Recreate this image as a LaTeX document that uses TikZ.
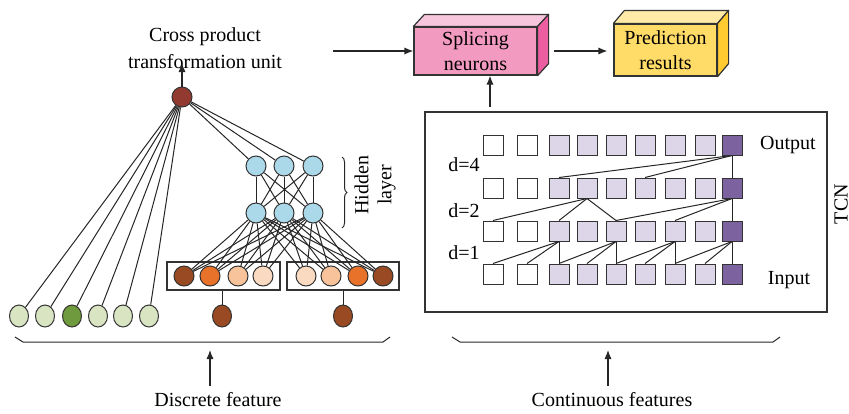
\documentclass[tikz,border=0pt]{standalone}
\usepackage{fontspec}
\setmainfont{Liberation Serif}
\usepackage{tikz}
\usetikzlibrary{arrows.meta, shapes.geometric, decorations.pathreplacing}

\definecolor{crossred}{HTML}{923A30}
\definecolor{hidblue}{HTML}{ABD9E9}
\definecolor{embbrown}{HTML}{9A4A22}
\definecolor{emborange}{HTML}{E8722A}
\definecolor{emblight}{HTML}{F8C39A}
\definecolor{embpale}{HTML}{FADAC0}
\definecolor{greenlight}{HTML}{D9E5C2}
\definecolor{greendark}{HTML}{6F9A3D}
\definecolor{tcnlight}{HTML}{DCD6E8}
\definecolor{tcndark}{HTML}{7D62A0}
\definecolor{splfront}{HTML}{F39AC1}
\definecolor{spltop}{HTML}{F7C6DC}
\definecolor{splside}{HTML}{EC5E9F}
\definecolor{prefront}{HTML}{FFDB68}
\definecolor{pretop}{HTML}{FFEBA6}
\definecolor{preside}{HTML}{FFCB30}

\tikzset{
  unit/.style = {circle, draw=black!80, line width=0.5pt, minimum size=10pt, inner sep=0pt},
  feat/.style = {ellipse, draw=black!80, line width=0.5pt, minimum width=9.5pt, minimum height=11pt, inner sep=0pt},
  cell/.style = {draw=black!80, line width=0.5pt, minimum size=10pt, inner sep=0pt},
  frame/.style = {draw=black!80, line width=0.6pt, inner sep=0pt},
  block/.style = {frame, align=center, font=\fontsize{10}{12.5}\selectfont},
  face/.style = {draw=black!80, line width=0.6pt, line join=round},
  link/.style = {line width=0.5pt, black!85},
  arr/.style = {-{Latex[length=4.5pt, width=3.6pt]}, line width=0.6pt, black!85}
}

\begin{document}
\begin{tikzpicture}[x=0.5pt, y=-0.5pt, font=\fontsize{10}{13.5}\selectfont]
\useasboundingbox (0,0) rectangle (849,413);

% splicing and prediction blocks
\node [block, fill=splfront, minimum width=61.5pt, minimum height=24pt] (splice) at (475.5,51) {Splicing\\neurons};
\draw [face, fill=spltop] (splice.north west) -- ++(11,-12) -- ([shift={(11,-12)}]splice.north east) -- (splice.north east) -- cycle;
\draw [face, fill=splside] (splice.north east) -- ++(11,-12) -- ([shift={(11,-12)}]splice.south east) -- (splice.south east) -- cycle;
\node [block, fill=prefront, minimum width=51.5pt, minimum height=26pt] (predict) at (665.5,50) {Prediction\\results};
\draw [face, fill=pretop] (predict.north west) -- ++(11,-13) -- ([shift={(11,-13)}]predict.north east) -- (predict.north east) -- cycle;
\draw [face, fill=preside] (predict.north east) -- ++(11,-13) -- ([shift={(11,-13)}]predict.south east) -- (predict.south east) -- cycle;
\draw [arr] ([xshift=8pt]splice.east) -- ([xshift=-3pt]predict.west |- splice.east);
\coordinate (crossout) at (333,51);
\draw [arr] (crossout) -- (splice.west);

% cross product part
\node [align=center] (crosslbl) at (205,48) {Cross product\\transformation unit};
\node [unit, fill=crossred] (top) at (182,97) {};
\coordinate (crosstip) at (182,63);
\draw [arr] (top.north) -- (crosstip);

% discrete one-hot features
\foreach \i/\x/\f in {1/19/greenlight, 2/45/greenlight, 3/72/greendark, 4/98/greenlight, 5/123/greenlight, 6/149/greenlight}
  \node [feat, fill=\f] (g\i) at (\x,316) {};
\foreach \i in {1,...,6}
  \draw [link] (top) -- (g\i);

% embeddings
\node [frame, minimum width=56.5pt, minimum height=14pt] (embL) at (223.5,276) {};
\node [frame, minimum width=56pt, minimum height=14pt] (embR) at (343,276) {};
\foreach \i/\x/\f in {1/184/embbrown, 2/210/emborange, 3/238/emblight, 4/263/embpale, 5/306/embpale, 6/331/emblight, 7/358/emborange, 8/383/embbrown}
  \node [unit, fill=\f] (e\i) at (\x,276) {};
\node [feat, fill=embbrown] (catL) at (222,316) {};
\node [feat, fill=embbrown] (catR) at (343,316) {};
\draw [link] (catL) -- (catL |- embL.south);
\draw [link] (catR) -- (catR |- embR.south);

% hidden layers
\foreach \i/\x in {1/256, 2/284, 3/313} {
  \node [unit, fill=hidblue] (hA\i) at (\x,166) {};
  \node [unit, fill=hidblue] (hB\i) at (\x,213) {};
}
\foreach \i in {1,2,3} {
  \draw [link] (top) -- (hA\i);
  \foreach \j in {1,2,3}
    \draw [link] (hB\i) -- (hA\j);
  \foreach \k in {1,...,8}
    \draw [link] (e\k) -- (hB\i);
}
\draw [link, decorate, decoration={brace, amplitude=2.5pt}] (342,157) -- (342,228);
\node [rotate=90, align=center, font=\fontsize{10}{11.5}\selectfont] (hidlbl) at (375,185) {Hidden\\layer};

% TCN
\node [frame, minimum width=201pt, minimum height=100pt] (tcnbox) at (626,212) {};
\foreach \c/\x/\f in {0/493/white, 1/527/white, 2/559/tcnlight, 3/587/tcnlight, 4/616/tcnlight, 5/645/tcnlight, 6/675/tcnlight, 7/705/tcnlight, 8/732/tcndark}
  \foreach \r/\y in {1/145, 2/188, 3/231, 4/274}
    \node [cell, fill=\f] (c\r-\c) at (\x,\y) {};
% d=1
\foreach \o/\a/\b in {2/0/1, 4/2/3, 6/4/5, 8/6/7} {
  \draw [link] (c4-\a.north) -- (c3-\o.south);
  \draw [link] (c4-\b.north) -- (c3-\o.south);
  \draw [link] (c4-\o.north) -- (c3-\o.south);
}
% d=2
\foreach \a in {0,2,4}
  \draw [link] (c3-\a.north) -- (c2-3.south);
\foreach \a in {4,6,8}
  \draw [link] (c3-\a.north) -- (c2-8.south);
% d=4
\foreach \a in {2,5,8}
  \draw [link] (c2-\a.north) -- (c1-8.south);
\node (outlbl) at (788,145) {Output};
\node (inlbl) at (789,280) {Input};
\node (d4) at (464,165) {d=4};
\node (d2) at (464,211) {d=2};
\node (d1) at (464,253) {d=1};
\node [rotate=90, anchor=north, inner sep=0pt] (tcnlbl) at (834,204) {TCN};
\coordinate (tcnup) at (490,107);
\draw [arr] (tcnup) -- (tcnup |- splice.south);

% feature groups
\draw [link] (15,337) -- (23,342) -- (383,342) -- (390,337);
\draw [link] (452,337) -- (460,342) -- (773,342) -- (780,337);
\node (disclbl) at (218,400) {Discrete feature};
\node (contlbl) at (612,400) {Continuous features};
\coordinate (discarr) at (210,350);
\coordinate (contarr) at (608,350);
\draw [arr] (disclbl.north -| discarr) -- (discarr);
\draw [arr] (contlbl.north -| contarr) -- (contarr);
\end{tikzpicture}
\end{document}
